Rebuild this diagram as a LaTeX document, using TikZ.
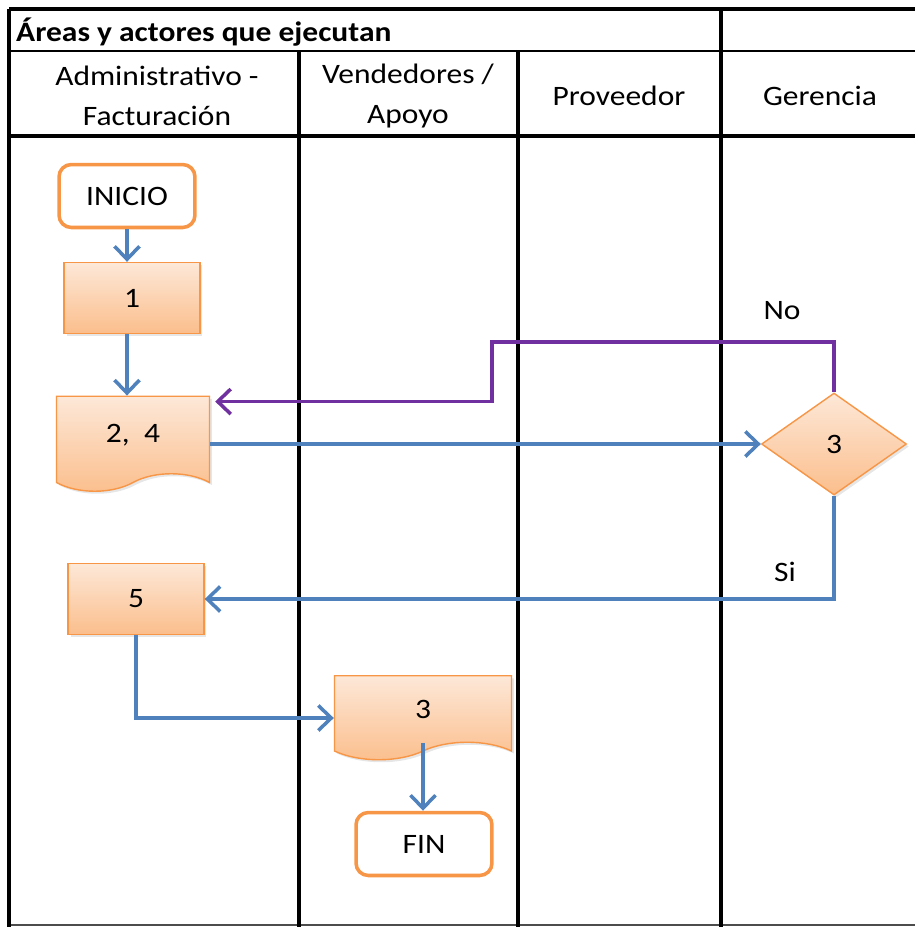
\documentclass[tikz,border=0pt]{standalone}
\usepackage{fontspec}
\setmainfont{Carlito}[FakeStretch=1.12]
\usetikzlibrary{arrows.meta,positioning,shapes.geometric,shapes.symbols,shadows}
\definecolor{boxorange}{RGB}{247,150,70}
\definecolor{peachtop}{RGB}{253,232,216}
\definecolor{peachbot}{RGB}{251,190,140}
\definecolor{flowblue}{RGB}{79,129,189}
\definecolor{flowpurple}{RGB}{112,48,160}
\tikzset{
  procbox/.style={rectangle, draw=boxorange, thick, top color=peachtop, bottom color=peachbot,
                  minimum width=2.72cm, minimum height=1.42cm, font=\fontsize{16}{19}\selectfont,
                  drop shadow={opacity=0.2, shadow xshift=0.05cm, shadow yshift=-0.05cm}},
  docbox/.style={procbox, tape, tape bend top=none, tape bend bottom=in and out, tape bend height=0.35cm},
  decision/.style={procbox, diamond, minimum width=2.9cm, minimum height=2.04cm, inner sep=0pt},
  terminal/.style={rectangle, rounded corners=7pt, draw=boxorange, line width=2pt, fill=white,
                   minimum width=2.72cm, minimum height=1.26cm, font=\fontsize{16}{19}\selectfont},
  arrow/.style={-{Straight Barb[length=2.6mm, width=5mm]}, line width=2pt, flowblue},
  arrowpurple/.style={arrow, flowpurple},
  lane/.style={line width=2.2pt, black},
  lanehead/.style={align=center, font=\fontsize{16}{22.5}\selectfont},
  flowlabel/.style={font=\fontsize{16}{19}\selectfont},
}
\begin{document}
\begin{tikzpicture}[x=0.02cm, y=-0.02cm]
\useasboundingbox (0,0) rectangle (915,927);
\clip (0,0) rectangle (915,927);

% ---- Table frame and lanes ----
\draw[lane] (9,9) -- (930,9);
\draw[line width=1.4pt] (9,51) -- (930,51);
\draw[lane] (9,136) -- (930,136);
\draw[line width=0.7pt, black!70] (9,925) -- (930,925);
\draw[lane] (9,9) -- (9,927);
\draw[lane] (721,9) -- (721,927);
\foreach \x in {299,518}
  \draw[lane] (\x,51) -- (\x,927);

% ---- Header ----
\node[anchor=west, font=\fontsize{16}{19}\selectfont\bfseries] (title) at (10,32) {Áreas y actores que ejecutan};
\node[lanehead] (hadmin) at (157,96) {Administrativo -\\Facturación};
\node[lanehead] (hvend) at (408,96) {Vendedores /\\Apoyo};
\node[lanehead] (hprov) at (619,96) {Proveedor};
\node[lanehead] (hger) at (820,96) {Gerencia};

% ---- Flow nodes ----
\node[terminal] (inicio) at (127,196) {INICIO};
\node[procbox] (p1) at (132,298) {1};
\node[docbox, minimum width=3.06cm, minimum height=1.9cm] (d24) at (133,435) {2,~~4};
\node[decision] (dec) at (834,444) {3};
\node[procbox] (p5) at (136,599) {5};
\node[docbox, minimum width=3.54cm, minimum height=1.68cm] (d3) at (423,709) {3};
\node[terminal] (fin) at (424,844) {FIN};

\node[flowlabel] (nolbl) at (782,311) {No};
\node[flowlabel] (silbl) at (785,572) {Si};
\coordinate (jog) at (492,342);

% ---- Arrows ----
\draw[arrow] (inicio.south) -- (inicio.south |- p1.north);
\draw[arrow] (p1.south -| inicio.south) -- (inicio.south |- d24.north);
\draw[arrow] (dec.west -| d24.east) -- (dec.west);
\draw[arrowpurple] (dec.north) |- (jog) |- ([shift={(5,6)}]d24.north east);
\draw[arrow] (dec.south) |- (p5.east);
\draw[arrow] (p5.south) |- ([shift={(0,9)}]d3.west);
\draw[arrow] (d3.south) -- (d3.south |- fin.north);
\end{tikzpicture}
\end{document}
